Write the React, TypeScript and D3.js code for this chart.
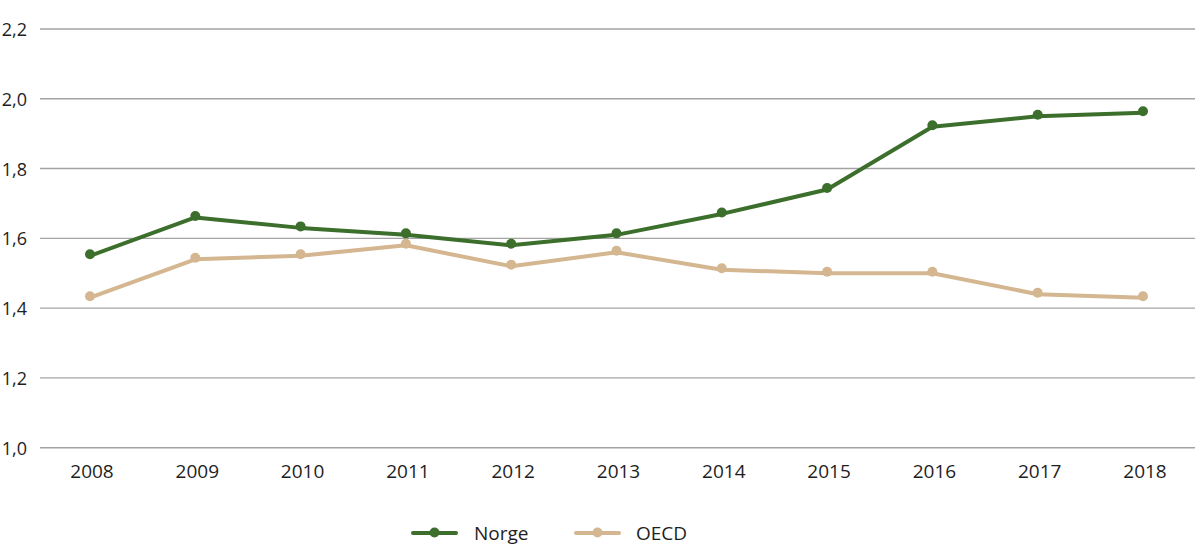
import * as d3 from "d3";

// years on the x axis
const years = [2008, 2009, 2010, 2011, 2012, 2013, 2014, 2015, 2016, 2017, 2018];
// series values
const norge = [1.55, 1.66, 1.63, 1.61, 1.58, 1.61, 1.67, 1.74, 1.92, 1.95, 1.96];
const oecd = [1.43, 1.54, 1.55, 1.58, 1.52, 1.56, 1.51, 1.5, 1.5, 1.44, 1.43];
// y tick values
const yTicks = [1.0, 1.2, 1.4, 1.6, 1.8, 2.0, 2.2];

const series = [
  { name: "Norge", values: norge, color: "#3c6e2c" },
  { name: "OECD", values: oecd, color: "#d4b690" },
];

const width = 1200;
const height = 558;
const font = "'Open Sans', sans-serif";

export default function App() {
  const gridLeft = 40;
  const gridRight = 1195;

  const x = d3.scalePoint<number>().domain(years).range([90, 1143]);
  const y = d3.scaleLinear().domain([1.0, 2.2]).range([447.7, 29]);

  const line = d3
    .line<number>()
    .x((_, i) => x(years[i]) as number)
    .y((d) => y(d));

  const fmt = (v: number) => v.toFixed(1).replace(".", ",");

  // legend layout
  const legend = [
    { lx: 413, tx: 474 },
    { lx: 576, tx: 636 },
  ];
  const legendY = 533;

  return (
    <svg
      width={width}
      height={height}
      style={{ position: "absolute", left: 0, top: 0, background: "#fff" }}
      fontFamily={font}
    >
      {/* grid + y labels */}
      {yTicks.map((t) => (
        <g key={t}>
          <line
            x1={gridLeft}
            x2={gridRight}
            y1={y(t)}
            y2={y(t)}
            stroke="#a3a3a3"
            strokeWidth={1.4}
          />
          <text
            x={27}
            y={y(t)}
            textAnchor="end"
            dominantBaseline="central"
            fontSize={18}
            fill="#1e1e1e"
          >
            {fmt(t)}
          </text>
        </g>
      ))}

      {/* x labels */}
      {years.map((yr) => (
        <text
          key={yr}
          x={(x(yr) as number) + 2}
          y={471}
          textAnchor="middle"
          dominantBaseline="central"
          fontSize={19}
          fill="#1e1e1e"
        >
          {yr}
        </text>
      ))}

      {/* lines */}
      {series.map((s) => (
        <g key={s.name}>
          <path
            d={line(s.values) ?? ""}
            fill="none"
            stroke={s.color}
            strokeWidth={4}
            strokeLinejoin="round"
          />
          {s.values.map((v, i) => (
            <circle
              key={i}
              cx={x(years[i]) as number}
              cy={y(v) - 1.5}
              r={5}
              fill={s.color}
            />
          ))}
        </g>
      ))}

      {/* legend */}
      {series.map((s, i) => (
        <g key={s.name}>
          <line
            x1={legend[i].lx}
            x2={legend[i].lx + 43}
            y1={legendY}
            y2={legendY}
            stroke={s.color}
            strokeWidth={4}
            strokeLinecap="round"
          />
          <circle cx={legend[i].lx + 21.5} cy={legendY - 0.5} r={5} fill={s.color} />
          <text
            x={legend[i].tx}
            y={legendY}
            dominantBaseline="central"
            fontSize={19}
            fill="#1e1e1e"
          >
            {s.name}
          </text>
        </g>
      ))}
    </svg>
  );
}
